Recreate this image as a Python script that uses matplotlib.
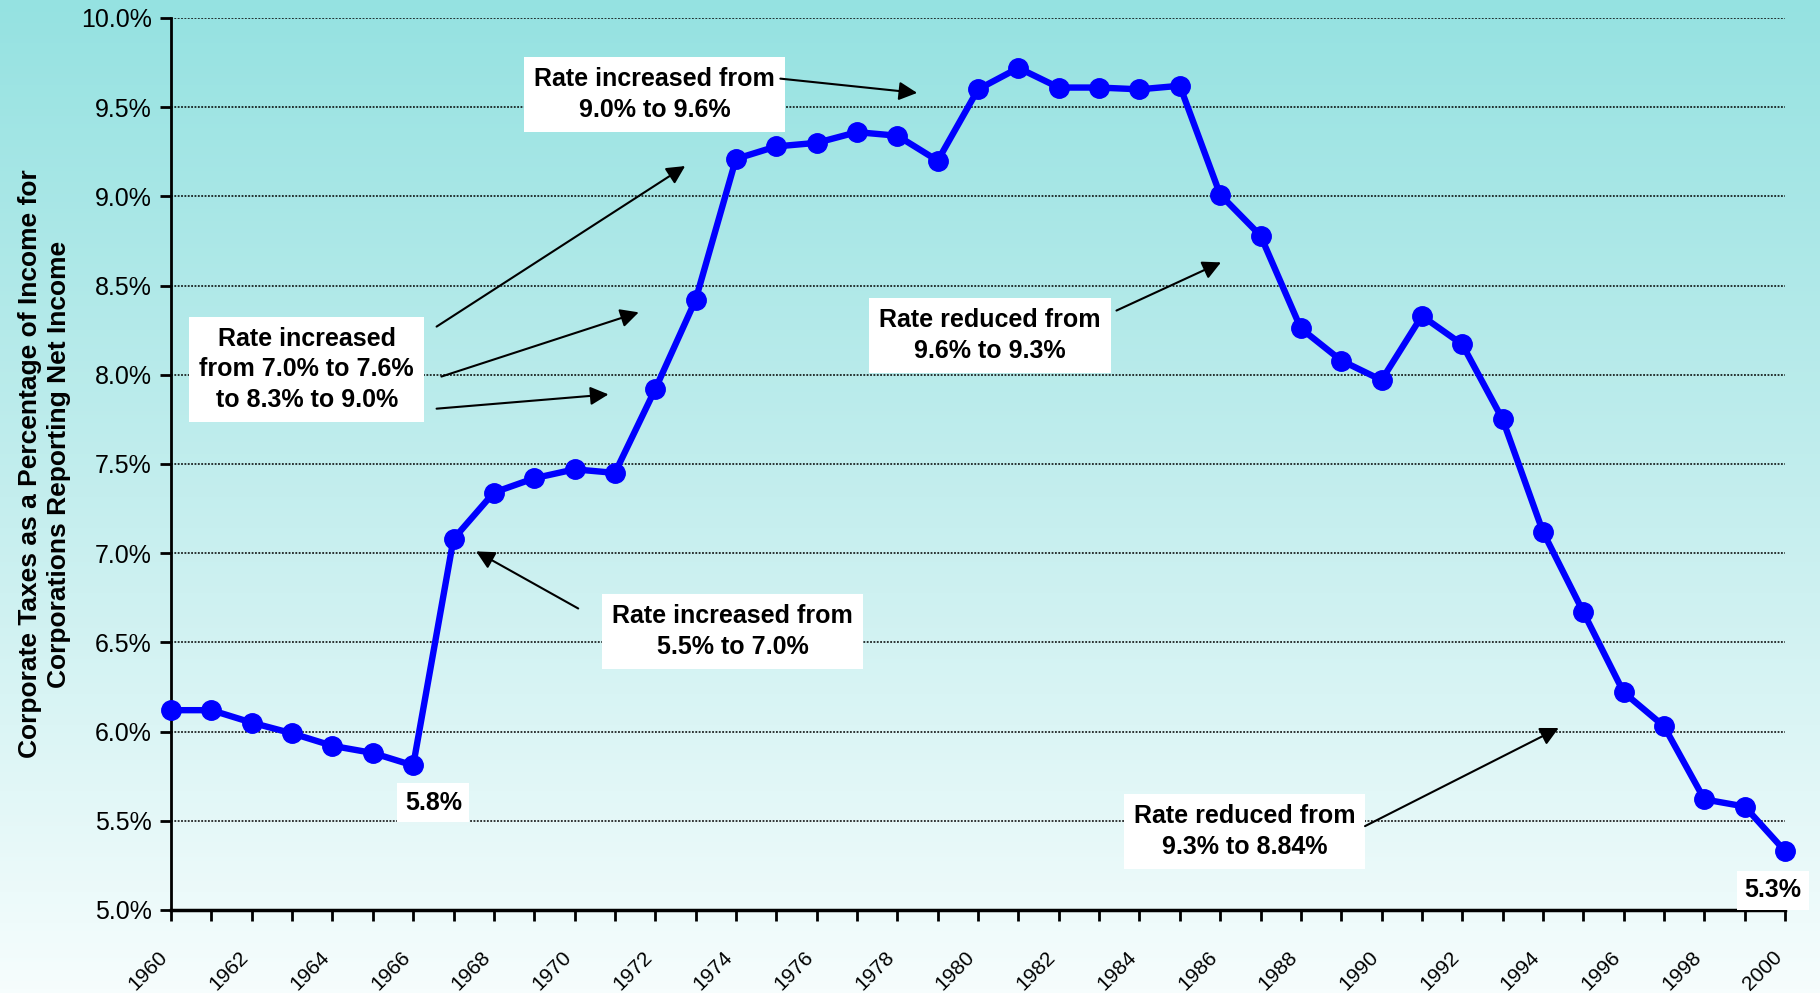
import numpy as np
import matplotlib.pyplot as plt
from matplotlib.colors import LinearSegmentedColormap
from matplotlib.ticker import MultipleLocator
from matplotlib.transforms import ScaledTranslation

plt.rcParams['font.family'] = ['Liberation Sans', 'DejaVu Sans']

years = list(range(1960, 2001))
tax_pct = [6.12, 6.12, 6.05, 5.99, 5.92, 5.88, 5.81, 7.08, 7.34, 7.42,
           7.47, 7.45, 7.92, 8.42, 9.21, 9.28, 9.30, 9.36, 9.34, 9.20,
           9.60, 9.72, 9.61, 9.61, 9.60, 9.62, 9.01, 8.78, 8.26, 8.08,
           7.97, 8.33, 8.17, 7.75, 7.12, 6.67, 6.22, 6.03, 5.62, 5.58,
           5.33]

# note boxes: (text, x, y)
notes = [
    ("Rate increased from\n9.0% to 9.6%", 1971.99, 9.57),
    ("Rate increased\nfrom 7.0% to 7.6%\nto 8.3% to 9.0%", 1963.36, 8.03),
    ("Rate reduced from\n9.6% to 9.3%", 1980.30, 8.22),
    ("Rate increased from\n5.5% to 7.0%", 1973.92, 6.56),
    ("Rate reduced from\n9.3% to 8.84%", 1986.60, 5.44),
]
# arrows: (start, tip)
arrows = [
    ((1975.1, 9.66), (1978.49, 9.58)),
    ((1966.58, 8.27), (1972.74, 9.17)),
    ((1966.70, 7.99), (1971.59, 8.35)),
    ((1966.58, 7.81), (1970.84, 7.89)),
    ((1983.43, 8.36), (1986.02, 8.63)),
    ((1970.09, 6.69), (1967.56, 7.01)),
    ((1989.59, 5.47), (1994.39, 6.02)),
]

fig = plt.figure(figsize=(18.2, 9.93), dpi=100)

# gradient backdrop
bg = fig.add_axes([0, 0, 1, 1])
grad_cmap = LinearSegmentedColormap.from_list('bg', ['#f6fdfd', '#c4eeee', '#95e2e1'])
bg.imshow(np.linspace(0, 1, 256).reshape(-1, 1), cmap=grad_cmap, aspect='auto',
          origin='lower', extent=[0, 1, 0, 1])
bg.axis('off')

ax = fig.add_axes([0.094, 0.0836, 0.8868, 0.8983])
ax.patch.set_alpha(0)

ax.plot(years, tax_pct, color='#0000ff', lw=4.6, marker='o', ms=14,
        zorder=4, clip_on=False)

ax.set_xlim(1960, 2000)
ax.set_ylim(5.0, 10.0)

yt = np.arange(5.0, 10.01, 0.5)
ax.set_yticks(yt)
ax.set_yticklabels([f"{v:.1f}%" for v in yt], fontsize=18)
ax.set_xticks(years[::2])
ax.set_xticklabels([str(y) for y in years[::2]], fontsize=15, rotation=45,
                   ha='right', rotation_mode='anchor')
ax.xaxis.set_minor_locator(MultipleLocator(1))
ax.tick_params(axis='both', which='both', direction='out', length=8, width=2)
ax.tick_params(axis='x', which='major', pad=19)
ax.tick_params(axis='y', pad=6)
shift = ScaledTranslation(-0.13, 0, fig.dpi_scale_trans)
for lab in ax.get_xticklabels():
    lab.set_transform(lab.get_transform() + shift)

for s in ['top', 'right']:
    ax.spines[s].set_visible(False)
ax.spines['left'].set_linewidth(2)
ax.spines['bottom'].set_linewidth(2.5)
ax.spines['bottom'].set_zorder(5)

ax.yaxis.grid(True, color='black', lw=1.1, ls=(0, (1.2, 1.0)))
ax.set_axisbelow(True)

ax.set_ylabel("Corporate Taxes as a Percentage of Income for\nCorporations Reporting Net Income",
              fontsize=19, fontweight='bold', linespacing=1.25)
ax.yaxis.set_label_coords(-0.062, 0.5)

box = dict(boxstyle='square,pad=0.4', fc='white', ec='none')
for txt, x, y in notes:
    ax.text(x, y, txt, fontsize=18, fontweight='bold', ha='center', va='center',
            linespacing=1.35, bbox=box, zorder=6)

for (sx, sy), (tx, ty) in arrows:
    ax.annotate('', xy=(tx, ty), xytext=(sx, sy), zorder=7,
                arrowprops=dict(arrowstyle='-|>,head_length=0.55,head_width=0.28',
                                mutation_scale=20, color='black', lw=1.5,
                                shrinkA=0, shrinkB=0))

# value labels for the low points
ax.text(1966.5, 5.60, f"{tax_pct[6]:.1f}%", fontsize=18, fontweight='bold',
        ha='center', va='center', zorder=6,
        bbox=dict(boxstyle='square,pad=0.3', fc='white', ec='none'))
ax.text(1999.7, 5.11, f"{tax_pct[-1]:.1f}%", fontsize=18, fontweight='bold',
        ha='center', va='center', zorder=6, clip_on=False,
        bbox=dict(boxstyle='square,pad=0.3', fc='white', ec='none'))

fig.savefig('out.png', dpi=100)
